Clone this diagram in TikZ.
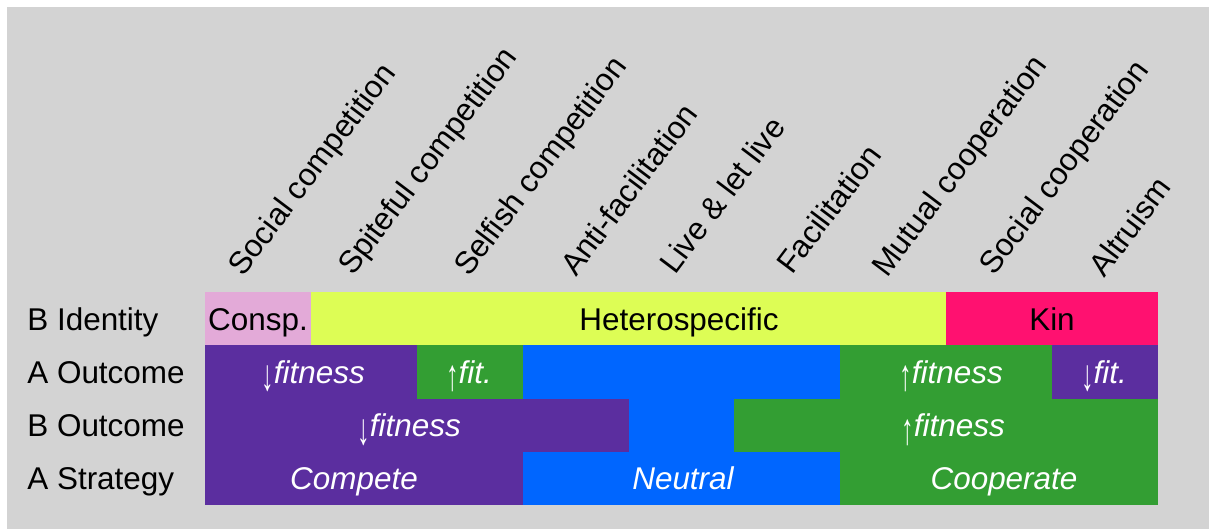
\documentclass[tikz,border=0pt]{standalone}
\usepackage{fontspec}
\setmainfont{Liberation Sans}
\usepackage{tikz}
\newcommand{\labfont}{\fontsize{17.9}{21}\selectfont}
\newcommand{\fitdown}{\raisebox{-0.24em}{\scalebox{0.8}[1.4]{\upshape↓}}}
\newcommand{\fitup}{\raisebox{-0.24em}{\scalebox{0.8}[1.4]{\upshape↑}}}
\definecolor{silver}{HTML}{D3D3D3}
\definecolor{orchid}{HTML}{E3AAD8}
\definecolor{lime}{HTML}{DDFD55}
\definecolor{rose}{HTML}{FF1170}
\definecolor{indigo}{HTML}{5B2E9F}
\definecolor{grass}{HTML}{339E33}
\definecolor{azure}{HTML}{0066FF}
\tikzset{
  rowlab/.style={anchor=base west, inner sep=0pt},
  celltxt/.style={anchor=base, inner sep=0pt, text=white, font=\labfont\itshape},
  idtxt/.style={anchor=base, inner sep=0pt, text=black, font=\labfont},
  toplab/.style={rotate=53, anchor=base west, inner sep=0pt}
}
\begin{document}
\begin{tikzpicture}[x=0.02cm, y=-0.02cm, font=\labfont]

           % Background
           \useasboundingbox (0,0) rectangle (1209,529);
           \fill[white] (0,0) rectangle (1209,529);
           \fill[silver] (7,7) rectangle (1209,529);

           % B identity
           \fill[orchid] (205,292) rectangle (311,345.25);
           \fill[lime] (311,292) rectangle (946.2,345.25);
           \fill[rose] (946.2,292) rectangle (1158,345.25);
           \node[idtxt] (consp) at (258,330) {Consp.};
           \node[idtxt] (hetero) at (679,330) {Heterospecific};
           \node[idtxt] (kin) at (1052,330) {Kin};

           % A outcome
           \fill[indigo] (205,345.25) rectangle (416.8,398.5);
           \fill[grass] (416.8,345.25) rectangle (522.7,398.5);
           \fill[azure] (522.7,345.25) rectangle (840.3,398.5);
           \fill[grass] (840.3,345.25) rectangle (1052.1,398.5);
           \fill[indigo] (1052.1,345.25) rectangle (1158,398.5);
           \node[celltxt] (aloss) at (313,383) {\fitdown fitness};
           \node[celltxt] (again) at (469,383) {\fitup fit.};
           \node[celltxt] (acoop) at (951,383) {\fitup fitness};
           \node[celltxt] (alt) at (1104,383) {\fitdown fit.};

           % B outcome
           \fill[indigo] (205,398.5) rectangle (628.6,451.75);
           \fill[azure] (628.6,398.5) rectangle (734.4,451.75);
           \fill[grass] (734.4,398.5) rectangle (1158,451.75);
           \node[celltxt] (bloss) at (409,436.5) {\fitdown fitness};
           \node[celltxt] (bgain) at (953,436.5) {\fitup fitness};

           % A strategy
           \fill[indigo] (205,451.75) rectangle (522.7,505);
           \fill[azure] (522.7,451.75) rectangle (840.3,505);
           \fill[grass] (840.3,451.75) rectangle (1158,505);
           \node[celltxt] (compete) at (354,489.7) {Compete};
           \node[celltxt] (neutral) at (683,489.7) {Neutral};
           \node[celltxt] (cooperate) at (1004,489.7) {Cooperate};

           % row labels
           \node[rowlab] (bident) at (27,330) {B Identity};
           \node[rowlab] (aout) at (27,383) {A Outcome};
           \node[rowlab] (bout) at (27,436.5) {B Outcome};
           \node[rowlab] (astrat) at (27,489.7) {A Strategy};

           % interaction labels
           \node[toplab] (socomp) at (243,278) {Social competition};
           \node[toplab] (spite) at (353,277) {Spiteful competition};
           \node[toplab] (selfish) at (469,278) {Selfish competition};
           \node[toplab] (antifac) at (576,278) {Anti-facilitation};
           \node[toplab] (livelet) at (675,276) {Live \& let live};
           \node[toplab] (facil) at (792,276) {Facilitation};
           \node[toplab] (mutual) at (887,279) {Mutual cooperation};
           \node[toplab] (socoop) at (994,277) {Social cooperation};
           \node[toplab] (altru) at (1104,279) {Altruism};

\end{tikzpicture}
\end{document}
